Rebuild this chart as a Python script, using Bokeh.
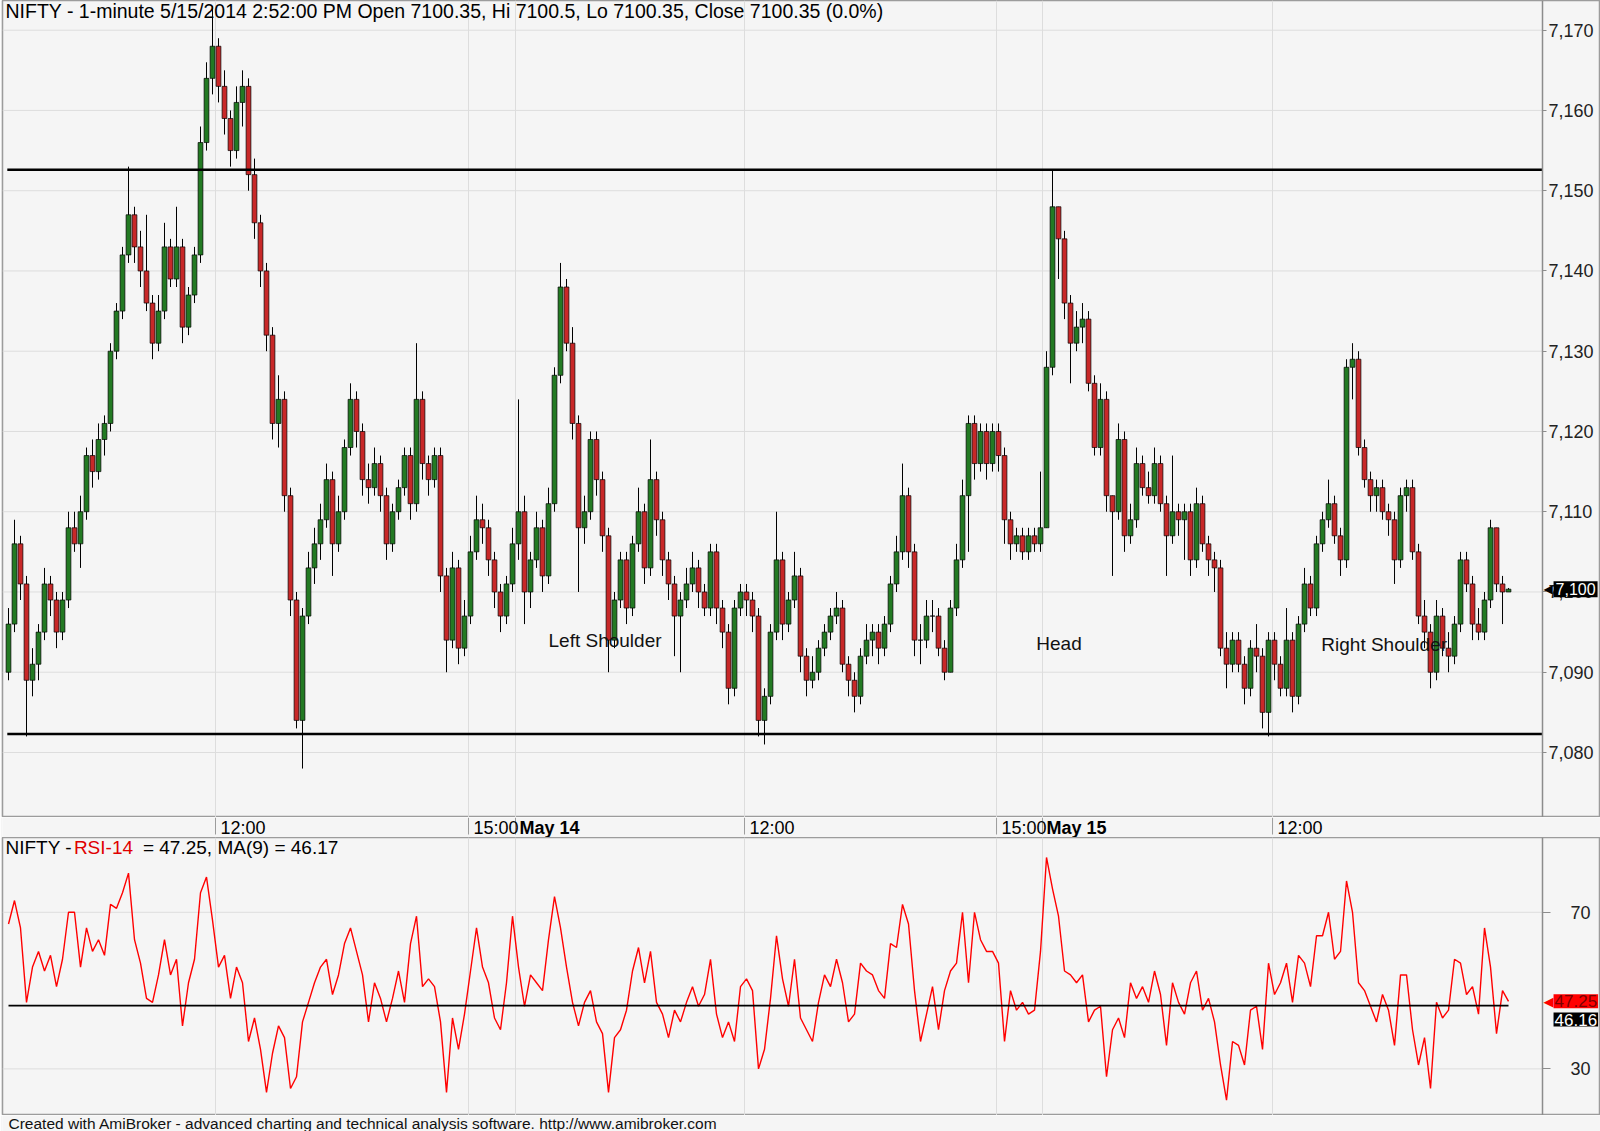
from bokeh.plotting import figure
from bokeh.models import Range1d, FixedTicker, NumeralTickFormatter, Label, Grid, LinearAxis
from bokeh.layouts import column
from bokeh.embed import file_html
from bokeh.resources import INLINE
from bokeh.core.properties import value

# ---------------- data ----------------
first_open = 7090.0
closes = [
    7096, 7106, 7101, 7089, 7091, 7095, 7101, 7099, 7095, 7099,
    7108, 7106, 7110, 7117, 7115, 7119, 7121, 7130, 7135, 7142,
    7147, 7143, 7140, 7136, 7131, 7135, 7143, 7139, 7143, 7133,
    7137, 7142, 7156, 7164, 7168, 7163, 7159, 7155, 7161, 7163,
    7152, 7146, 7140, 7132, 7121, 7124, 7112, 7099, 7084, 7097,
    7103, 7106, 7109, 7114, 7106, 7110, 7118, 7124, 7120, 7114,
    7113, 7116, 7112, 7106, 7110, 7113, 7117, 7111, 7124, 7116,
    7114, 7117, 7102, 7094, 7103, 7093, 7097, 7105, 7109, 7108,
    7104, 7100, 7097, 7101, 7106, 7110,
    7100, 7104, 7108, 7102,
    7111, 7127, 7138, 7131, 7121, 7108, 7110, 7119, 7114, 7107,
    7094, 7099, 7104, 7098, 7106, 7110, 7103, 7114, 7109, 7104,
    7101, 7097, 7099, 7101, 7103, 7100, 7098, 7105, 7098, 7095,
    7088, 7098, 7100, 7099, 7097, 7084, 7087, 7095, 7104, 7096,
    7099, 7102, 7092, 7089, 7090, 7093, 7095, 7097, 7098, 7091,
    7089, 7087, 7092, 7094, 7095, 7093, 7096, 7101, 7105, 7112,
    7105, 7094, 7094, 7097, 7097, 7093, 7090, 7098, 7104, 7112,
    7121, 7116, 7120, 7116, 7120, 7117, 7109, 7106, 7107, 7105,
    7107, 7106, 7108,
    7128, 7148, 7144, 7136, 7131, 7133, 7134,
    7126, 7118, 7124, 7112, 7110, 7119, 7107, 7109, 7116, 7113,
    7112, 7116, 7111, 7107, 7110, 7109, 7110, 7104, 7111, 7106,
    7104, 7103, 7093, 7091, 7094, 7091, 7088, 7093, 7092, 7085,
    7094, 7091, 7088, 7094, 7087, 7096, 7101, 7098, 7106, 7109,
    7111, 7107, 7104, 7128, 7129, 7118, 7114, 7112, 7113, 7110,
    7109, 7104, 7112, 7113, 7105, 7097, 7095, 7090, 7097, 7093,
    7092, 7096, 7104, 7101, 7096, 7095, 7099, 7108, 7101, 7100,
    7100.35,
]
highs = [
    7098, 7109, 7107, 7102, 7093, 7096, 7103, 7102, 7100, 7100,
    7110, 7110, 7112, 7118, 7119, 7121, 7122, 7131, 7136, 7143,
    7153, 7148, 7145, 7147, 7137, 7137, 7146, 7144, 7148, 7144,
    7138, 7143, 7158, 7166, 7173, 7169, 7165, 7160, 7163, 7165,
    7164, 7154, 7147, 7141, 7133, 7127, 7125, 7113, 7100, 7098,
    7105, 7108, 7111, 7116, 7115, 7112, 7119, 7126, 7125, 7121,
    7116, 7118, 7117, 7113, 7111, 7114, 7118, 7118, 7131, 7125,
    7117, 7118, 7118, 7103, 7105, 7104, 7099, 7107, 7112, 7111,
    7109, 7105, 7101, 7102, 7108, 7124,
    7112, 7105, 7110, 7109,
    7113, 7128, 7141, 7139, 7133, 7122, 7112, 7120, 7120, 7115,
    7108, 7100, 7105, 7105, 7107, 7113, 7111, 7119, 7115, 7110,
    7105, 7102, 7100, 7103, 7105, 7104, 7101, 7106, 7106, 7099,
    7096, 7099, 7101, 7101, 7100, 7098, 7088, 7096, 7110, 7105,
    7100, 7105, 7103, 7093, 7092, 7094, 7096, 7098, 7100, 7099,
    7092, 7090, 7093, 7096, 7096, 7096, 7097, 7102, 7107, 7116,
    7113, 7106, 7096, 7099, 7099, 7098, 7094, 7099, 7106, 7114,
    7122, 7122, 7121, 7121, 7121, 7121, 7118, 7110, 7108, 7108,
    7108, 7108, 7115,
    7130, 7152.5, 7148, 7145, 7137, 7135, 7136,
    7135, 7127, 7126, 7125, 7112, 7121, 7120, 7111, 7118, 7117,
    7115, 7118, 7117, 7112, 7117, 7111, 7111, 7111, 7113, 7112,
    7107, 7105, 7104, 7095, 7095, 7095, 7092, 7094, 7096, 7093,
    7095, 7095, 7092, 7098, 7095, 7097, 7103, 7102, 7107, 7110,
    7114, 7112, 7108, 7129, 7131, 7130, 7119, 7115, 7114, 7114,
    7111, 7110, 7113, 7114, 7114, 7106, 7099, 7096, 7099, 7098,
    7095, 7097, 7105, 7105, 7102, 7098, 7100, 7109, 7108, 7102,
    7100.5,
]
lows = [
    7089, 7095, 7099, 7082, 7087, 7089, 7094, 7097, 7093, 7094,
    7098, 7105, 7103, 7109, 7113, 7114, 7117, 7120, 7129, 7134,
    7141, 7141, 7138, 7135, 7129, 7130, 7134, 7138, 7138, 7131,
    7132, 7136, 7141, 7155, 7162, 7161, 7157, 7153, 7154, 7158,
    7150, 7144, 7138, 7130, 7119, 7118, 7110, 7097, 7083, 7078,
    7096, 7101, 7104, 7108, 7102, 7105, 7109, 7117, 7118, 7112,
    7111, 7112, 7110, 7104, 7105, 7109, 7112, 7109, 7110, 7114,
    7112, 7113, 7100, 7090, 7093, 7091, 7092, 7096, 7104, 7106,
    7102, 7098, 7095, 7096, 7100, 7104,
    7096, 7098, 7103, 7100,
    7101, 7110, 7126, 7130, 7119, 7100, 7106, 7109, 7112, 7105,
    7090, 7093, 7098, 7096, 7097, 7105, 7101, 7102, 7107, 7102,
    7099, 7092, 7090, 7098, 7100, 7098, 7097, 7097, 7096, 7093,
    7086, 7087, 7097, 7097, 7095, 7082, 7081, 7086, 7094, 7094,
    7095, 7098, 7090, 7087, 7088, 7089, 7092, 7094, 7096, 7090,
    7087, 7085, 7086, 7091, 7092, 7091, 7092, 7095, 7100, 7104,
    7103, 7092, 7091, 7093, 7095, 7092, 7089, 7090, 7097, 7103,
    7105, 7114, 7115, 7114, 7115, 7115, 7106, 7104, 7105, 7104,
    7104, 7105, 7105,
    7108, 7127, 7139, 7134, 7126, 7130, 7131,
    7125, 7117, 7117, 7110, 7102, 7109, 7105, 7106, 7108, 7112,
    7111, 7111, 7110, 7102, 7106, 7107, 7104, 7102, 7103, 7105,
    7102, 7100, 7092, 7088, 7090, 7090, 7086, 7087, 7090, 7083,
    7082, 7089, 7087, 7087, 7085, 7086, 7095, 7097, 7097, 7105,
    7108, 7106, 7102, 7103, 7124, 7117, 7113, 7110, 7110, 7109,
    7107, 7101, 7103, 7110, 7104, 7096, 7093, 7088, 7089, 7092,
    7090, 7091, 7095, 7100, 7094, 7094, 7094, 7098, 7100, 7096,
    7100,
]
rsi = [
    67, 73, 66, 47, 56, 60, 55, 59, 51, 58,
    70, 70, 56, 66, 60, 63, 59, 72, 71, 75,
    80, 63, 57, 48, 47, 54, 63, 54, 58, 41,
    52, 58, 75, 79, 68, 56, 59, 48, 56, 52,
    37, 43, 35, 24, 34, 41, 38, 25, 28, 42,
    47, 52, 56, 58, 49, 54, 62, 66, 60, 54,
    42, 52, 48, 42, 48, 55, 47, 62, 69, 51,
    53, 51, 42, 24, 43, 35, 44, 55, 66, 56,
    52, 43, 40, 52, 69, 56, 46, 54, 52, 50,
    63, 74, 66, 56, 47, 41, 47, 50, 42, 39,
    24, 38, 40, 45, 55, 61, 52, 60, 47, 44,
    38, 45, 42, 47, 51, 46, 49, 58, 44, 38,
    42, 37, 51, 53, 50, 30, 35, 48, 64, 53,
    46, 58, 43, 40, 37, 47, 54, 51, 58, 52,
    42, 44, 57, 55, 54, 50, 48, 62, 61, 72,
    67, 50, 37, 44, 51, 40, 50, 55, 57, 70,
    52, 70, 63, 60, 60, 57, 37, 50, 45, 47,
    44, 45, 60, 84, 76, 69, 55, 54, 52, 54,
    42, 45, 46, 28, 40, 43, 38, 52, 48, 51,
    47, 55, 49, 36, 52, 47, 44, 52, 55, 45,
    48, 42, 31, 22, 37, 36, 31, 45, 46, 35,
    57, 49, 52, 57, 47, 59, 57, 51, 64, 64,
    70, 58, 60, 78, 70, 52, 50, 46, 42, 49,
    45, 36, 54, 54, 40, 31, 38, 25, 47, 43,
    45, 58, 57, 49, 51, 44, 66, 56, 39, 50,
    47.25,
]
rsi_ma_level = 46.17
rsi_ma_box_level = 42.6
resistance_level = 7152.6
support_level = 7082.3

price_ticks = [7080, 7090, 7100, 7110, 7120, 7130, 7140, 7150, 7160, 7170]
rsi_ticks = [30, 70]
time_tick_bars = [34.5, 76.67, 84.5, 122.67, 164.67, 172.33, 210.67]
time_tick_labels = ["12:00", "15:00", "May 14", "12:00", "15:00", "May 15", "12:00"]
time_tick_is_day = [False, False, True, False, False, True, False]

pattern_labels = ["Left Shoulder", "Head", "Right Shoulder"]
pattern_label_bars = [90.0, 171.3, 218.8]
pattern_label_prices = [7093.9, 7093.6, 7093.4]

title_text = "NIFTY - 1-minute 5/15/2014 2:52:00 PM Open 7100.35, Hi 7100.5, Lo 7100.35, Close 7100.35 (0.0%)"
last_close_label = "7,100"
rsi_last_label = "47.25"
rsi_ma_label = "46.16"
footer_text = "Created with AmiBroker - advanced charting and technical analysis software. http://www.amibroker.com"

# ---------------- derived candle geometry ----------------
n = len(closes)
xs = list(range(n))
opens = [first_open] + closes[:-1]
tops = [max(o, c) for o, c in zip(opens, closes)]
bots = [min(o, c) for o, c in zip(opens, closes)]
hi = [max(h, t) for h, t in zip(highs, tops)]
lo = [min(l, b) for l, b in zip(lows, bots)]
UP, DOWN = "#237a23", "#c82828"
cols = [UP if c >= o else DOWN for o, c in zip(opens, closes)]

BG = "#f5f5f5"
GRID = "#dddddd"
FONT = "Liberation Sans"
FW = 1598
X0, X1 = -1.0, 265.33     # whole figure width in bar units
AXIS_X = 255.67           # bar-unit position of the right-hand value axis

xr = Range1d(X0, X1)


def base_fig(h, yr):
    fg = figure(frame_width=FW, frame_height=h, x_range=xr, y_range=yr,
                output_backend="svg", toolbar_location=None, x_axis_location=None,
                y_axis_location=None, min_border_left=2, min_border_right=0,
                min_border_top=0, min_border_bottom=0,
                background_fill_color=BG, border_fill_color=BG)
    fg.grid.visible = False
    return fg


def right_axis(fg, ticks, tick_out, standoff, fmt=None):
    ax = LinearAxis(fixed_location=AXIS_X, ticker=FixedTicker(ticks=ticks))
    if fmt is not None:
        ax.formatter = fmt
    ax.major_label_text_font = FONT
    ax.major_label_text_font_size = "18px"
    ax.major_label_text_color = "#222222"
    ax.axis_line_color = "#8c8c8c"
    ax.axis_line_width = 1.5
    ax.major_tick_line_color = "#8c8c8c"
    ax.major_tick_in = 0
    ax.major_tick_out = tick_out
    ax.minor_tick_line_color = None
    ax.major_label_standoff = standoff
    fg.add_layout(ax, "right")


# ---------------- price panel ----------------
p = base_fig(817, Range1d(7071.9, 7173.7))
p.outline_line_color = "#9c9c9c"
p.outline_line_width = 1.5
p.add_layout(Grid(dimension=0, ticker=FixedTicker(ticks=time_tick_bars), grid_line_color=GRID))
p.segment(x0=[X0] * len(price_ticks), y0=price_ticks, x1=[AXIS_X] * len(price_ticks), y1=price_ticks,
          line_color=GRID, line_width=1)
right_axis(p, price_ticks, 4, 2, NumeralTickFormatter(format="0,0"))

p.segment(x0=xs, y0=hi, x1=xs, y1=lo, line_color="black", line_width=1)
p.vbar(x=xs, width=0.8, top=tops, bottom=bots, fill_color=cols, line_color="black", line_width=0.7)

p.segment(x0=[-0.2, -0.2], y0=[resistance_level, support_level], x1=[AXIS_X, AXIS_X],
          y1=[resistance_level, support_level], line_color="black", line_width=2.5)

p.text(x=[-0.5], y=[7172.4], text=[title_text], text_font=value(FONT), text_font_size="19.5px",
       text_baseline="middle", text_align="left", text_color="black")
p.text(x=pattern_label_bars, y=pattern_label_prices, text=pattern_labels, text_font=value(FONT),
       text_font_size="19px", text_baseline="middle", text_align="left", text_color="#111111")

p.add_layout(Label(x=AXIS_X, y=closes[-1], x_offset=1, text="\u25c0", text_color="black",
                   text_font="DejaVu Sans", text_font_size="12px", text_baseline="middle"))
p.add_layout(Label(x=AXIS_X, y=closes[-1], x_offset=11, text=last_close_label, text_color="white",
                   text_font=FONT, text_font_size="16px", text_baseline="middle",
                   background_fill_color="black", padding=2))

# ---------------- time-label strip ----------------
s = base_fig(20, Range1d(0, 1))
s.outline_line_color = None
s.segment(x0=time_tick_bars, y0=[1] * len(time_tick_bars), x1=time_tick_bars,
          y1=[0.15] * len(time_tick_bars), line_color="#9c9c9c", line_width=1)
tx_n = [b for b, d in zip(time_tick_bars, time_tick_is_day) if not d]
tl_n = [t for t, d in zip(time_tick_labels, time_tick_is_day) if not d]
tx_d = [b for b, d in zip(time_tick_bars, time_tick_is_day) if d]
tl_d = [t for t, d in zip(time_tick_labels, time_tick_is_day) if d]
s.text(x=tx_n, y=[0.5] * len(tx_n), text=tl_n, x_offset=5, text_font=value(FONT),
       text_font_size="18px", text_baseline="middle", text_color="black")
s.text(x=tx_d, y=[0.5] * len(tx_d), text=tl_d, x_offset=4, text_font=value(FONT),
       text_font_size="18px", text_font_style="bold", text_baseline="middle", text_color="black")

# ---------------- RSI panel ----------------
r = base_fig(278, Range1d(18.1, 89.1))
r.outline_line_color = "#9c9c9c"
r.outline_line_width = 1.5
r.add_layout(Grid(dimension=0, ticker=FixedTicker(ticks=time_tick_bars), grid_line_color=GRID))
r.segment(x0=[X0] * len(rsi_ticks), y0=rsi_ticks, x1=[AXIS_X] * len(rsi_ticks), y1=rsi_ticks,
          line_color=GRID, line_width=1)
right_axis(r, rsi_ticks, 8, 20)

r.line(x=xs, y=rsi, line_color="#ff0000", line_width=1.4)
r.segment(x0=[0], y0=[rsi_ma_level], x1=[n - 1], y1=[rsi_ma_level], line_color="black", line_width=1.8)

r.text(x=[-0.5], y=[86.5], text=["NIFTY -"], text_font=value(FONT), text_font_size="19px",
       text_baseline="middle", text_color="black")
r.text(x=[10.9], y=[86.5], text=["RSI-14"], text_font=value(FONT), text_font_size="19px",
       text_baseline="middle", text_color="#e00000")
r.text(x=[22.4], y=[86.5], text=["= 47.25, MA(9) = 46.17"], text_font=value(FONT),
       text_font_size="19px", text_baseline="middle", text_color="black")

r.add_layout(Label(x=AXIS_X, y=rsi[-1], x_offset=1, text="\u25c0", text_color="#ff0000",
                   text_font="DejaVu Sans", text_font_size="13px", text_baseline="middle"))
r.add_layout(Label(x=AXIS_X, y=rsi[-1], x_offset=11, text=rsi_last_label, text_color="#7a0000",
                   text_font=FONT, text_font_size="17px", text_baseline="middle",
                   background_fill_color="#ff0000", padding=1))
r.add_layout(Label(x=AXIS_X, y=rsi_ma_box_level, x_offset=11, text=rsi_ma_label, text_color="white",
                   text_font=FONT, text_font_size="17px", text_baseline="middle",
                   background_fill_color="black", padding=1))

# ---------------- footer ----------------
f = base_fig(16, Range1d(0, 1))
f.outline_line_color = None
f.text(x=[0], y=[0.5], text=[footer_text], text_font=value(FONT), text_font_size="15.5px",
       text_baseline="middle", text_color="#111111")

layout = column(p, s, r, f, spacing=0)
open("out.html", "w").write(file_html(layout, INLINE))
